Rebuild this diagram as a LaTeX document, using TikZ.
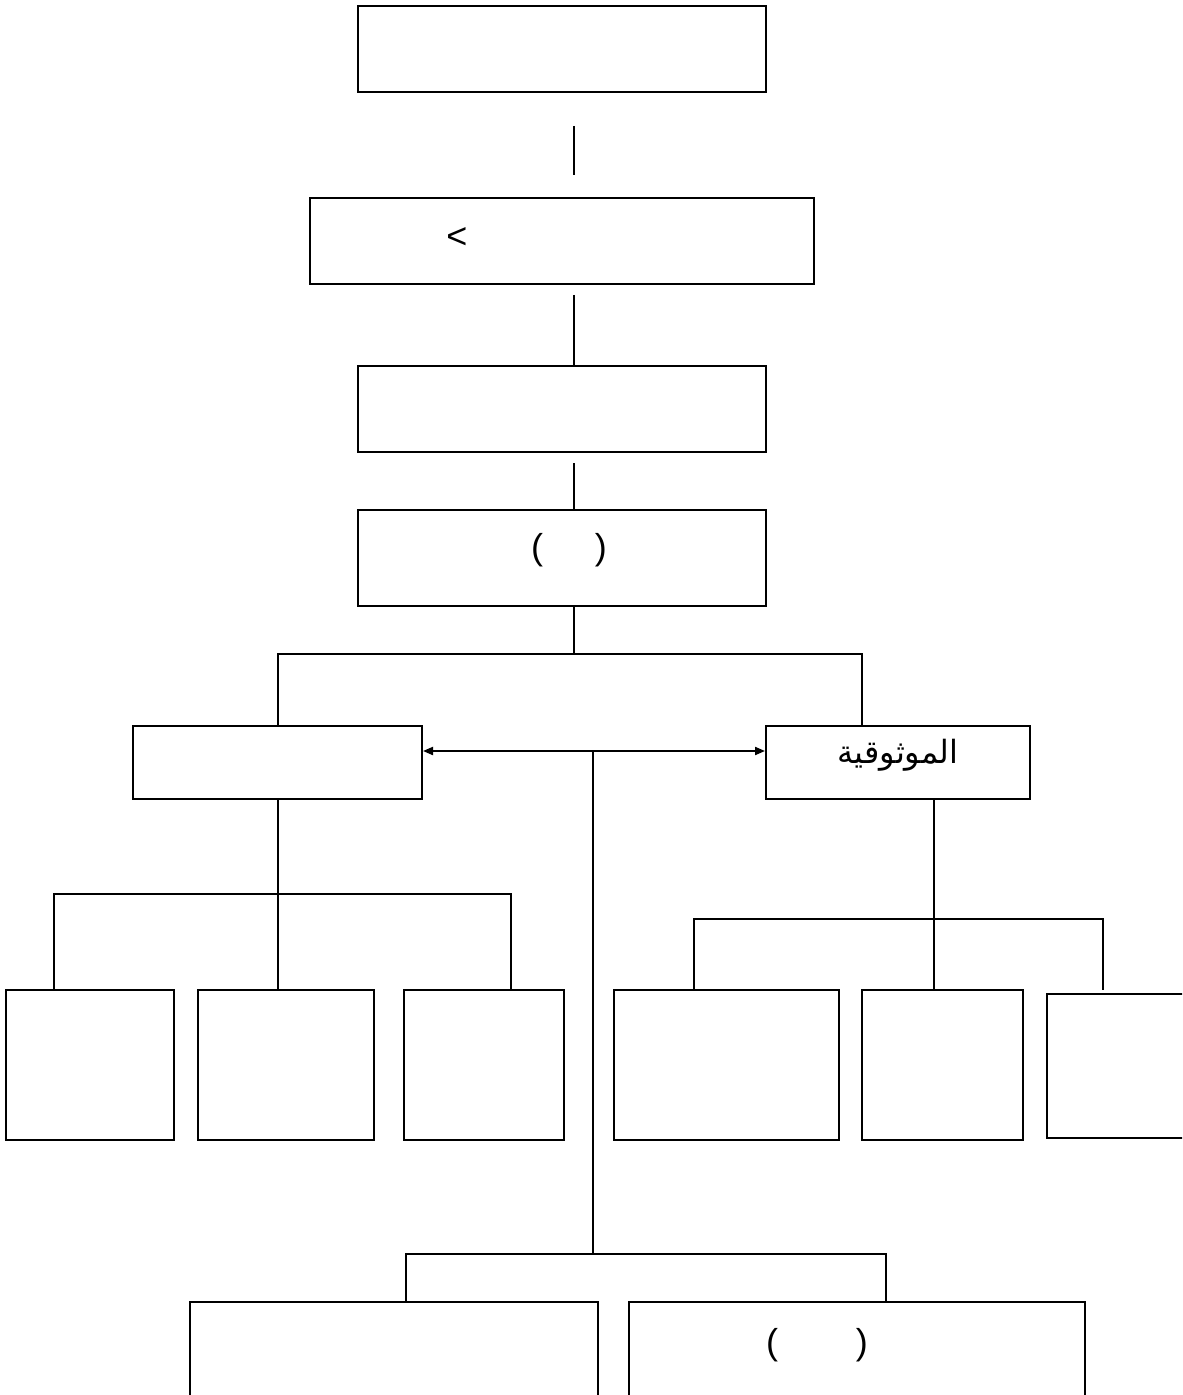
\documentclass[tikz,border=0pt]{standalone}
\usepackage{fontspec}
\setmainfont{Liberation Sans}
\newfontfamily\arabicfont[Script=Arabic]{DejaVu Sans}
\TeXXeTstate=1
\usetikzlibrary{arrows.meta}
\tikzset{
  box/.style={draw, line width=1pt, inner sep=0pt},
  link/.style={line width=1pt},
  both/.style={link, <->, >={Triangle[length=5pt,width=4pt]}},
  label text/.style={font=\fontsize{18}{20}\selectfont}
}
\begin{document}
\begin{tikzpicture}[x=0.5pt,y=-0.5pt]
\useasboundingbox (0,0) rectangle (1182,1395);
\clip (0,0) rectangle (1182,1395);
% main column
\node[box, minimum width=204pt, minimum height=43pt] (top) at (562,49) {};
\node[box, minimum width=252pt, minimum height=43pt] (rule) at (562,241) {};
\node[label text] (lt) at (457,238) {<};
\node[box, minimum width=204pt, minimum height=43pt] (mid) at (562,409) {};
\node[box, minimum width=204pt, minimum height=48pt] (pair) at (562,558) {};
\node[label text] (pairtxt) at (569,550) {(\hspace{26pt})};
% second level
\node[box, minimum width=144.5pt, minimum height=36.5pt] (left) at (277.5,762.5) {};
\node[box, minimum width=132pt, minimum height=36.5pt] (right) at (898,762.5) {};
\node[font=\arabicfont\fontsize{16}{20}\selectfont] (trust) at (898,755) {\beginR الموثوقية\endR};
% lower rows
\foreach \n/\cx/\w in {lA/90/84, lB/286/88, lC/484/80, rD/726.5/112.5, rE/942.5/80.5}
  \node[box, minimum width=\w pt, minimum height=75pt] (\n) at (\cx,1065) {};
\node[box, minimum width=96.5pt, minimum height=72pt] (rF) at (1143.5,1066) {};
\node[box, minimum width=204pt, minimum height=79pt] (botL) at (394,1381) {};
\node[box, minimum width=228pt, minimum height=79pt] (botR) at (857,1381) {};
\node[label text] (botRtxt) at (817,1345) {(\hspace{39pt})};
% connectors
\coordinate (spine) at (574,0);
\coordinate (gapa) at (574,126);
\coordinate (gapb) at (574,175);
\draw[link] (gapa) -- (gapb);
\draw[link, shorten <=5pt] (rule.south -| spine) -- (mid.north -| spine);
\draw[link, shorten <=5pt] (mid.south -| spine) -- (pair.north -| spine);
\coordinate (fork) at (574,654);
\coordinate (rfork) at (862,654);
\draw[link] (pair.south -| spine) -- (fork);
\draw[link] (left.north) |- (rfork) -- (rfork |- right.north);
\coordinate (hub) at (593,751);
\coordinate (trunk) at (593,1254);
\draw[both] (left.east |- hub) -- (right.west |- hub);
\draw[link] (hub) -- (trunk);
\coordinate (tl) at (406,1254);
\coordinate (tr) at (886,1254);
\draw[link] (tl |- botL.north) -- (tl) -- (tr) -- (tr |- botR.north);
% left tree
\coordinate (lfork) at (278,894);
\coordinate (la) at (54,894);
\coordinate (lc) at (511,894);
\draw[link] (left.south -| lfork) -- (lfork |- lB.north);
\draw[link] (la |- lA.north) -- (la) -- (lc) -- (lc |- lC.north);
% right tree
\coordinate (rfk) at (934,919);
\coordinate (ra) at (694,919);
\coordinate (rc) at (1103,919);
\draw[link] (right.south -| rfk) -- (rfk |- rE.north);
\draw[link, shorten >=1.5pt] (ra |- rD.north) -- (ra) -- (rc) -- (rc |- rF.north);
\end{tikzpicture}
\end{document}
